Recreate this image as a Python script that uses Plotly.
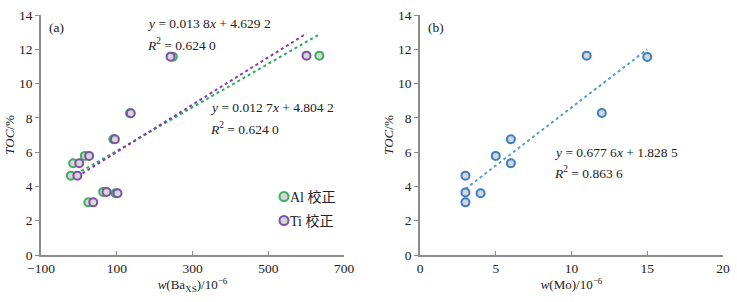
import plotly.graph_objects as go

# TOC values (%) shared by both panels
toc = [11.57, 11.63, 8.27, 6.75, 5.78, 5.35, 4.63, 3.07, 3.68, 3.60]
# excess Ba, Al-corrected and Ti-corrected (10^-6)
ba_al = [248, 635, 135, 91, 16, -15, -21, 25, 64, 97]
ba_ti = [242, 601, 137, 95, 27, 1, -4, 38, 73, 102]
# Mo (10^-6)
toc_mo = [4.63, 3.65, 3.07, 3.60, 5.78, 5.35, 6.75, 11.63, 8.28, 11.55]
mo = [3, 3, 3, 4, 5, 6, 6, 11, 12, 15]

# regression coefficients (slope, intercept)
fit_al = (0.0127, 4.8042)
fit_ti = (0.0138, 4.6292)
fit_mo = (0.6776, 1.8285)

legend_names = ["Al 校正", "Ti 校正"]

GREEN = "#3dae5e"
PURPLE = "#7b52a6"
BLUE = "#3b7fc2"
FILL = "#d6d6d6"
SERIF = "'Liberation Serif', 'Times New Roman', 'Noto Sans CJK SC', serif"

W, H = 737, 302
ML, MR, MT, MB = 41, 14, 15, 47
PW = W - ML - MR
PH = H - MT - MB


def line_pts(xs, fit):
    x0, x1 = min(xs), max(xs)
    return [x0, x1], [fit[0] * x0 + fit[1], fit[0] * x1 + fit[1]]


def px(xp):
    return (xp - ML) / PW


def py(yp):
    return (H - MB - yp) / PH


fig = go.Figure()

lx, ly = line_pts(ba_al, fit_al)
fig.add_trace(go.Scatter(x=lx, y=ly, mode="lines", showlegend=False,
                         line=dict(color="#2fa865", width=2, dash="dot"),
                         xaxis="x", yaxis="y"))
lx, ly = line_pts(ba_ti, fit_ti)
fig.add_trace(go.Scatter(x=lx, y=ly, mode="lines", showlegend=False,
                         line=dict(color="#7e3fae", width=2, dash="dot"),
                         xaxis="x", yaxis="y"))

fig.add_trace(go.Scatter(x=ba_al, y=toc, mode="markers", name=legend_names[0], showlegend=False,
                         marker=dict(size=8, color=FILL, line=dict(color=GREEN, width=2)),
                         xaxis="x", yaxis="y"))
fig.add_trace(go.Scatter(x=ba_ti, y=toc, mode="markers", name=legend_names[1], showlegend=False,
                         marker=dict(size=8, color=FILL, line=dict(color=PURPLE, width=2)),
                         xaxis="x", yaxis="y"))

lx, ly = line_pts(mo, fit_mo)
fig.add_trace(go.Scatter(x=lx, y=ly, mode="lines", showlegend=False,
                         line=dict(color="#5b9bd5", width=2, dash="dot"),
                         xaxis="x2", yaxis="y2"))
fig.add_trace(go.Scatter(x=mo, y=toc_mo, mode="markers", showlegend=False,
                         marker=dict(size=8, color=FILL, line=dict(color=BLUE, width=2)),
                         xaxis="x2", yaxis="y2"))

axis_common = dict(showline=True, linecolor="#8c8c8c", linewidth=1.5, showgrid=False,
                   zeroline=False, ticklen=4, tickcolor="#8c8c8c", automargin=False,
                   tickfont=dict(family=SERIF, size=13.5, color="#222"),
                   title_font=dict(family=SERIF, size=13, color="#222"))

d1 = [0, px(344)]
d2 = [px(420), 1]

fig.update_layout(
    width=W, height=H,
    margin=dict(l=ML, r=MR, t=MT, b=MB, autoexpand=False),
    paper_bgcolor="white", plot_bgcolor="white",
    font=dict(family=SERIF, size=12, color="#222"),
    xaxis=dict(domain=d1, range=[-100, 700], tick0=-100, dtick=200, ticks="inside",
               title=dict(text="<i>w</i>(Ba<sub>XS</sub>)/10<sup>−6</sup>", standoff=3),
               anchor="y", **axis_common),
    yaxis=dict(domain=[0, 1], range=[0, 14], dtick=2, ticks="outside",
               title=dict(text="<i>TOC</i>/%", standoff=1), anchor="x", **axis_common),
    xaxis2=dict(domain=d2, range=[0, 20], dtick=5, ticks="inside",
                title=dict(text="<i>w</i>(Mo)/10<sup>−6</sup>", standoff=3),
                anchor="y2", **axis_common),
    yaxis2=dict(domain=[0, 1], range=[0, 14], dtick=2, ticks="outside",
                title=dict(text="<i>TOC</i>/%", standoff=1), anchor="x2", **axis_common),
    showlegend=False,
)

ann_font = dict(family=SERIF, size=13.5, color="#222")


def ann(x, y, text, size=13.5):
    fig.add_annotation(x=x, y=y, xref="paper", yref="paper", text=text, showarrow=False,
                       xanchor="left", yanchor="middle", font=dict(ann_font, size=size),
                       borderpad=0)


ann(px(48), py(27), "(a)")
ann(px(427), py(27), "(b)")
ann(px(146), py(24), "<i>y</i> = 0.013 8<i>x</i> + 4.629 2")
ann(px(146), py(44), "<i>R</i><sup>2</sup> = 0.624 0")
ann(px(209), py(108), "<i>y</i> = 0.012 7<i>x</i> + 4.804 2")
ann(px(209), py(128), "<i>R</i><sup>2</sup> = 0.624 0")
ann(px(553), py(152), "<i>y</i> = 0.677 6<i>x</i> + 1.828 5")
ann(px(553), py(172), "<i>R</i><sup>2</sup> = 0.863 6")

# manual legend (symbol + label)
for name, col, yp in [(legend_names[0], GREEN, 196.5), (legend_names[1], PURPLE, 220.5)]:
    cx, cy, r = 284, yp, 4.5
    fig.add_shape(type="circle", xref="paper", yref="paper",
                  x0=px(cx - r), x1=px(cx + r), y0=py(cy + r), y1=py(cy - r),
                  fillcolor=FILL, line=dict(color=col, width=2))
    ann(px(289), py(yp), name, size=14)

fig.write_html("out.html", config={"displayModeBar": False},
               post_script="document.body.style.margin='0';document.body.style.overflow='hidden';")
